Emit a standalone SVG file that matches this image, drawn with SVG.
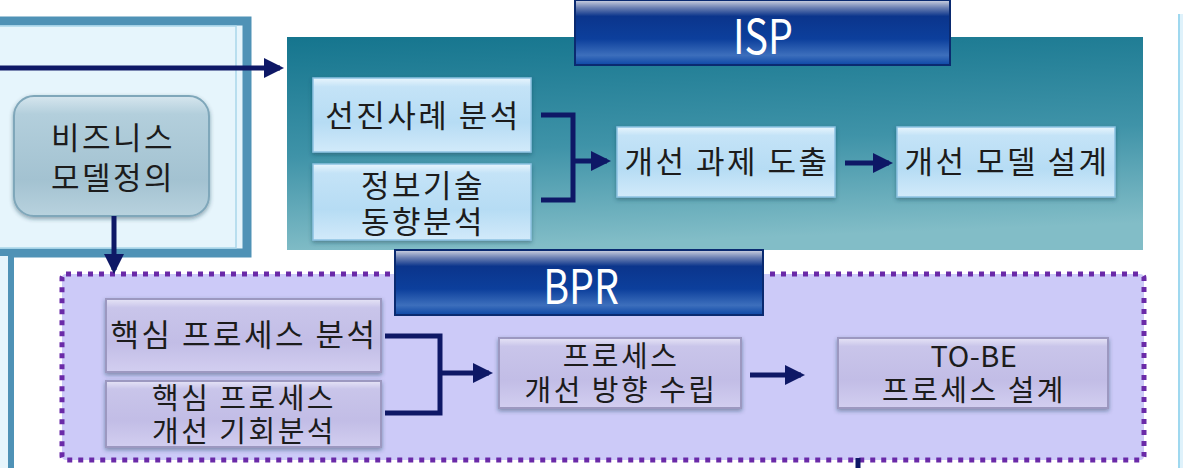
<svg xmlns="http://www.w3.org/2000/svg" width="1183" height="468" viewBox="0 0 1183 468">
<defs>
<style>
.t{font-family:"Noto Sans CJK KR","Malgun Gothic",sans-serif;font-size:31px;letter-spacing:2.5px;fill:#1c1c1c;text-anchor:middle;}
.t2{font-family:"Noto Sans CJK KR","Malgun Gothic",sans-serif;font-size:29px;letter-spacing:2.5px;fill:#1c1c1c;text-anchor:middle;}
.hd{font-family:"Noto Sans CJK KR",sans-serif;font-size:48px;fill:#ffffff;text-anchor:middle;}
.c{fill:none;stroke:#0e1866;stroke-width:5;}
.ca{fill:none;stroke:#0e1866;stroke-width:5;marker-end:url(#ah);}
.isp{fill:url(#gIspNode);stroke:#8cc2e2;stroke-width:1.5;}
.bpr{fill:url(#gBprNode);stroke:#9c98c0;stroke-width:2;}
</style>
<marker id="ah" markerWidth="4" markerHeight="4" refX="3.2" refY="2" orient="auto" markerUnits="strokeWidth">
<path d="M0,0 L4,2 L0,4 Z" fill="#0e1866"/>
</marker>
<linearGradient id="gIsp" x1="0" y1="0" x2="0.15" y2="1">
<stop offset="0" stop-color="#15758e"/>
<stop offset="0.55" stop-color="#3f93a8"/>
<stop offset="1" stop-color="#82bdc7"/>
</linearGradient>
<linearGradient id="gHead" x1="0" y1="0" x2="0" y2="1">
<stop offset="0" stop-color="#d0d4e2"/>
<stop offset="0.12" stop-color="#6a7fb2"/>
<stop offset="0.25" stop-color="#0b358c"/>
<stop offset="0.6" stop-color="#0c3f9c"/>
<stop offset="0.85" stop-color="#3d6fbc"/>
<stop offset="1" stop-color="#0d47a6"/>
</linearGradient>
<linearGradient id="gIspNode" x1="0" y1="0" x2="0" y2="1">
<stop offset="0" stop-color="#e8f5fd"/>
<stop offset="0.12" stop-color="#c4e3f7"/>
<stop offset="0.6" stop-color="#b6dcf4"/>
<stop offset="1" stop-color="#d2eafa"/>
</linearGradient>
<linearGradient id="gBprNode" x1="0" y1="0" x2="0" y2="1">
<stop offset="0" stop-color="#e6e4f6"/>
<stop offset="0.12" stop-color="#c9c5ea"/>
<stop offset="0.6" stop-color="#c2bde6"/>
<stop offset="1" stop-color="#d2cef0"/>
</linearGradient>
<linearGradient id="gBiz" x1="0" y1="0" x2="0" y2="1">
<stop offset="0" stop-color="#d6e6ee"/>
<stop offset="0.15" stop-color="#b3cfdc"/>
<stop offset="0.7" stop-color="#a3c2d1"/>
<stop offset="1" stop-color="#b8d2de"/>
</linearGradient>
<filter id="sh" x="-10%" y="-10%" width="120%" height="130%">
<feDropShadow dx="0" dy="2" stdDeviation="2" flood-color="#1a3a50" flood-opacity="0.45"/>
</filter>
</defs>

<rect x="0" y="0" width="1183" height="468" fill="#ffffff"/>

<g id="left-panel">
<rect x="-10" y="21" width="257" height="232" fill="#e6f5fc" stroke="#4f92b6" stroke-width="9"/>
<rect x="-10" y="26" width="246" height="222" fill="none" stroke="#a9d6ea" stroke-width="1.5"/>
<rect x="-20" y="253" width="31" height="230" fill="#e6f5fc" stroke="#4f92b6" stroke-width="6"/>
</g>

<g id="right-edge">
<rect x="1178" y="14" width="10" height="460" fill="#dff2fb"/>
<line x1="1179" y1="14" x2="1179" y2="468" stroke="#9fd8ef" stroke-width="2"/>
</g>

<g id="isp-panel">
<rect x="287" y="37" width="856" height="213" fill="url(#gIsp)"/>
</g>

<g id="isp-header">
<rect x="575" y="0" width="375" height="65" fill="url(#gHead)" stroke="#0a2a70" stroke-width="2"/>
<text class="hd" transform="translate(763,54) scale(0.82,1)" x="0" y="0">ISP</text>
</g>

<g id="bpr-panel">
<rect x="62" y="274" width="1082" height="186" rx="4" fill="#cccaf8" stroke="#6a2aa8" stroke-width="5" stroke-dasharray="5,6"/>
</g>

<g id="bpr-header">
<rect x="395" y="250" width="368" height="65" fill="url(#gHead)" stroke="#0a2a70" stroke-width="2"/>
<text class="hd" transform="translate(581,304) scale(0.82,1)" x="0" y="0">BPR</text>
</g>

<g id="biz-model">
<rect x="14" y="96" width="195" height="120" rx="20" fill="url(#gBiz)" stroke="#7fa7ba" stroke-width="2" filter="url(#sh)"/>
<text class="t" x="113" y="149">비즈니스</text>
<text class="t" x="113" y="189">모델정의</text>
</g>

<g id="isp-best">
<rect class="isp" x="313" y="78" width="218" height="74" filter="url(#sh)"/>
<text class="t" x="423" y="127">선진사례 분석</text>
</g>
<g id="isp-tech">
<rect class="isp" x="313" y="164" width="218" height="76" filter="url(#sh)"/>
<text class="t" x="423" y="197">정보기술</text>
<text class="t" x="423" y="233">동향분석</text>
</g>
<g id="isp-task">
<rect class="isp" x="617" y="127" width="218" height="70" filter="url(#sh)"/>
<text class="t" x="727" y="173">개선 과제 도출</text>
</g>
<g id="isp-model">
<rect class="isp" x="897" y="127" width="218" height="70" filter="url(#sh)"/>
<text class="t" x="1007" y="173">개선 모델 설계</text>
</g>

<g id="bpr-core">
<rect class="bpr" x="106" y="299" width="275" height="73" filter="url(#sh)"/>
<text class="t" x="244" y="346">핵심 프로세스 분석</text>
</g>
<g id="bpr-opp">
<rect class="bpr" x="106" y="381" width="275" height="66" filter="url(#sh)"/>
<text class="t2" x="244" y="409">핵심 프로세스</text>
<text class="t2" x="244" y="442">개선 기회분석</text>
</g>
<g id="bpr-dir">
<rect class="bpr" x="499" y="338" width="242" height="70" filter="url(#sh)"/>
<text class="t2" x="621" y="367">프로세스</text>
<text class="t2" x="621" y="401">개선 방향 수립</text>
</g>
<g id="bpr-tobe">
<rect class="bpr" x="838" y="338" width="270" height="70" filter="url(#sh)"/>
<text class="t2" x="974" y="367" style="letter-spacing:0.5px">TO-BE</text>
<text class="t2" x="974" y="401">프로세스 설계</text>
</g>

<g id="connectors">
<path class="ca" d="M0,68 L280,68"/>
<path class="ca" d="M114,216 L114,270"/>
<path class="c" d="M541,115 L573,115 L573,200 L541,200"/>
<path class="ca" d="M573,161 L607,161"/>
<path class="ca" d="M845,163 L889,163"/>
<path class="c" d="M385,336 L440,336 L440,413 L385,413"/>
<path class="ca" d="M440,373 L489,373"/>
<path class="ca" d="M750,375 L801,375"/>
<path class="c" d="M858,458 L858,468"/>
</g>
</svg>
